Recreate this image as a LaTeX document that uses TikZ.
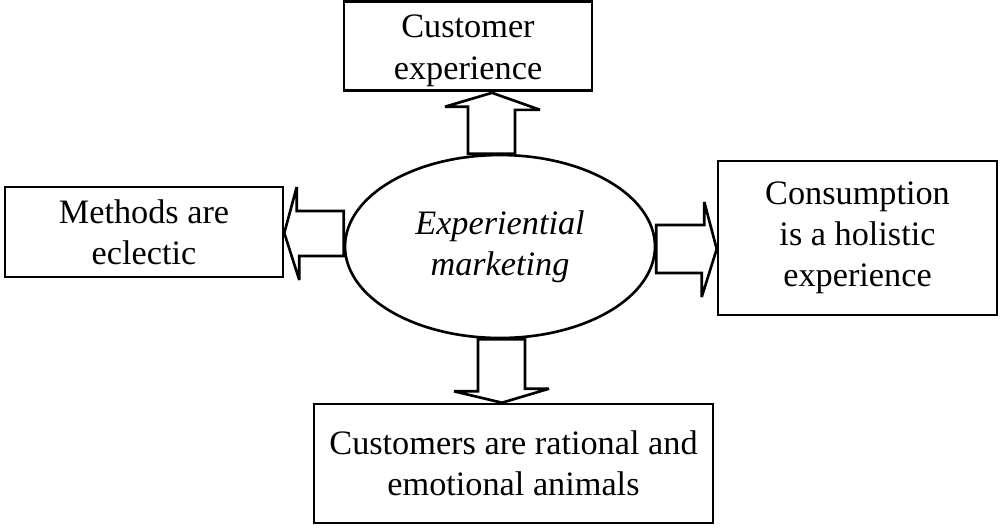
\documentclass[tikz,border=0pt]{standalone}
\usepackage{fontspec}
\setmainfont{Liberation Serif}
\usetikzlibrary{calc,shapes.geometric}

\tikzset{
  box/.style={draw, line width=1.5pt, align=center, inner sep=0pt,
    font=\fontsize{19.5}{23.5}\selectfont},
  hollow/.style={draw, line width=1.5pt, line join=miter, miter limit=2, fill=white}
}

\begin{document}
\begin{tikzpicture}[x=0.02cm, y=-0.02cm]
    \useasboundingbox (0,0) rectangle (1000,529);
    % the four statements and the middle
    \node[box, minimum width=4.96cm, minimum height=1.78cm] (cx) at (468,46) {\rule{0pt}{18.5pt}Customer\\experience};
    \node[box, minimum width=5.56cm, minimum height=1.8cm] (me) at (144,232) {Methods are\\eclectic};
    \node[box, minimum width=5.58cm, minimum height=3.08cm] (co) at (857.5,238) {Consumption\\is a holistic\\experience};
    \node[box, minimum width=7.98cm, minimum height=2.38cm] (cu) at (513.5,463.5) {Customers are rational and\\emotional animals};
    \node[box, ellipse, minimum width=6.2cm, minimum height=3.66cm,
          font=\fontsize{19.5}{23.5}\selectfont\itshape] (mkt) at (500,246.5) {Experiential\\marketing};
    % block arrows
    \draw[hollow] ($(mkt.north)+(-32,0)$) -- ++(0,-47) -- ++(-23,0) -- ($(cx.south)+(24,1)$)
        -- ++(48,17) -- ++(-25,0) -- ($(mkt.north)+(15,0)$) -- cycle;
    \draw[hollow] ($(mkt.west)+(0,-35.5)$) -- ++(-47,0) -- ++(0,-24) -- ($(me.east)+(0,1)$)
        -- ++(15,47) -- ++(0,-24) -- ($(mkt.west)+(0,9.5)$) -- cycle;
    \draw[hollow] ($(mkt.east)+(0,-21.5)$) -- ++(48,0) -- ++(0,-23) -- ($(co.west)+(0,11)$)
        -- ++(-15,48) -- ++(0,-24) -- ($(mkt.east)+(0,26.5)$) -- cycle;
    \draw[hollow] ($(mkt.south)+(-22,0)$) -- ++(0,52) -- ++(-24,0) -- ($(cu.north)+(-11.5,0)$)
        -- ++(47,-14) -- ++(-24,0) -- ($(mkt.south)+(25,0)$) -- cycle;
\end{tikzpicture}
\end{document}
